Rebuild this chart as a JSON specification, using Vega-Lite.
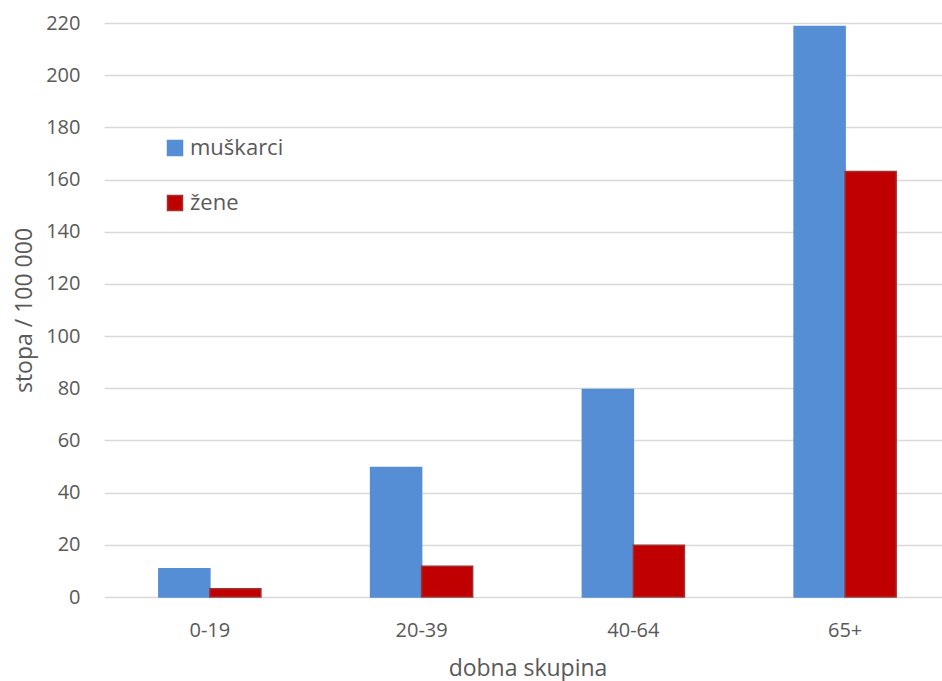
{
  "$schema": "https://vega.github.io/schema/vega-lite/v6.json",
  "width": 838,
  "height": 574,
  "autosize": {"type": "none"},
  "padding": {"left": 104, "top": 23, "right": 0, "bottom": 84},
  "background": "white",
  "config": {
    "view": {"stroke": null},
    "font": "Open Sans"
  },
  "data": {
    "values": [
      {"skupina": "0-19", "spol": "muškarci", "stopa": 10.8},
      {"skupina": "0-19", "spol": "žene", "stopa": 3.2},
      {"skupina": "20-39", "spol": "muškarci", "stopa": 49.6},
      {"skupina": "20-39", "spol": "žene", "stopa": 11.8},
      {"skupina": "40-64", "spol": "muškarci", "stopa": 79.5},
      {"skupina": "40-64", "spol": "žene", "stopa": 19.8},
      {"skupina": "65+", "spol": "muškarci", "stopa": 218.7},
      {"skupina": "65+", "spol": "žene", "stopa": 163.1}
    ]
  },
  "mark": {"type": "bar", "strokeWidth": 1.5},
  "encoding": {
    "x": {
      "field": "skupina",
      "type": "nominal",
      "sort": ["0-19", "20-39", "40-64", "65+"],
      "scale": {"range": [0, 847], "paddingInner": 0.518, "paddingOuter": 0.259},
      "axis": {
        "title": "dobna skupina",
        "labelAngle": 0,
        "ticks": false,
        "tickSize": 0,
        "domain": false,
        "labelPadding": 39,
        "labelBaseline": "alphabetic",
        "labelFontSize": 20,
        "labelColor": "#595959",
        "titleFontSize": 23,
        "titleColor": "#595959",
        "titleFontWeight": "normal",
        "titleBaseline": "alphabetic",
        "titleY": 78
      }
    },
    "xOffset": {
      "field": "spol",
      "type": "nominal",
      "sort": ["muškarci", "žene"],
      "scale": {"paddingInner": 0, "paddingOuter": 0}
    },
    "y": {
      "field": "stopa",
      "type": "quantitative",
      "scale": {"domain": [0, 220], "nice": false},
      "axis": {
        "values": [0, 20, 40, 60, 80, 100, 120, 140, 160, 180, 200, 220],
        "title": "stopa / 100 000",
        "domain": false,
        "ticks": false,
        "tickSize": 0,
        "labelPadding": 24,
        "labelFontSize": 20,
        "labelColor": "#595959",
        "gridColor": "#d9d9d9",
        "gridWidth": 1.5,
        "titleFontSize": 23,
        "titleColor": "#595959",
        "titleFontWeight": "normal",
        "titleAngle": -90,
        "titleBaseline": "alphabetic",
        "titleAlign": "center",
        "titleX": -73,
        "titleY": 287
      }
    },
    "color": {
      "field": "spol",
      "type": "nominal",
      "scale": {"domain": ["muškarci", "žene"], "range": ["#558ed5", "#c00000"]},
      "legend": {
        "title": null,
        "orient": "none",
        "legendX": 60,
        "legendY": 114,
        "padding": 0,
        "symbolType": "square",
        "symbolSize": 225,
        "symbolStrokeWidth": 1.5,
        "symbolOffset": 0,
        "labelFontSize": 22,
        "labelColor": "#595959",
        "labelOffset": 4,
        "rowPadding": 33
      }
    },
    "stroke": {
      "field": "spol",
      "type": "nominal",
      "scale": {"domain": ["muškarci", "žene"], "range": ["#558ed5", "#a03030"]},
      "legend": {
        "title": null,
        "orient": "none",
        "legendX": 60,
        "legendY": 114,
        "padding": 0,
        "symbolType": "square",
        "symbolSize": 225,
        "symbolStrokeWidth": 1.5,
        "symbolOffset": 0,
        "labelFontSize": 22,
        "labelColor": "#595959",
        "labelOffset": 4,
        "rowPadding": 33
      }
    }
  }
}
